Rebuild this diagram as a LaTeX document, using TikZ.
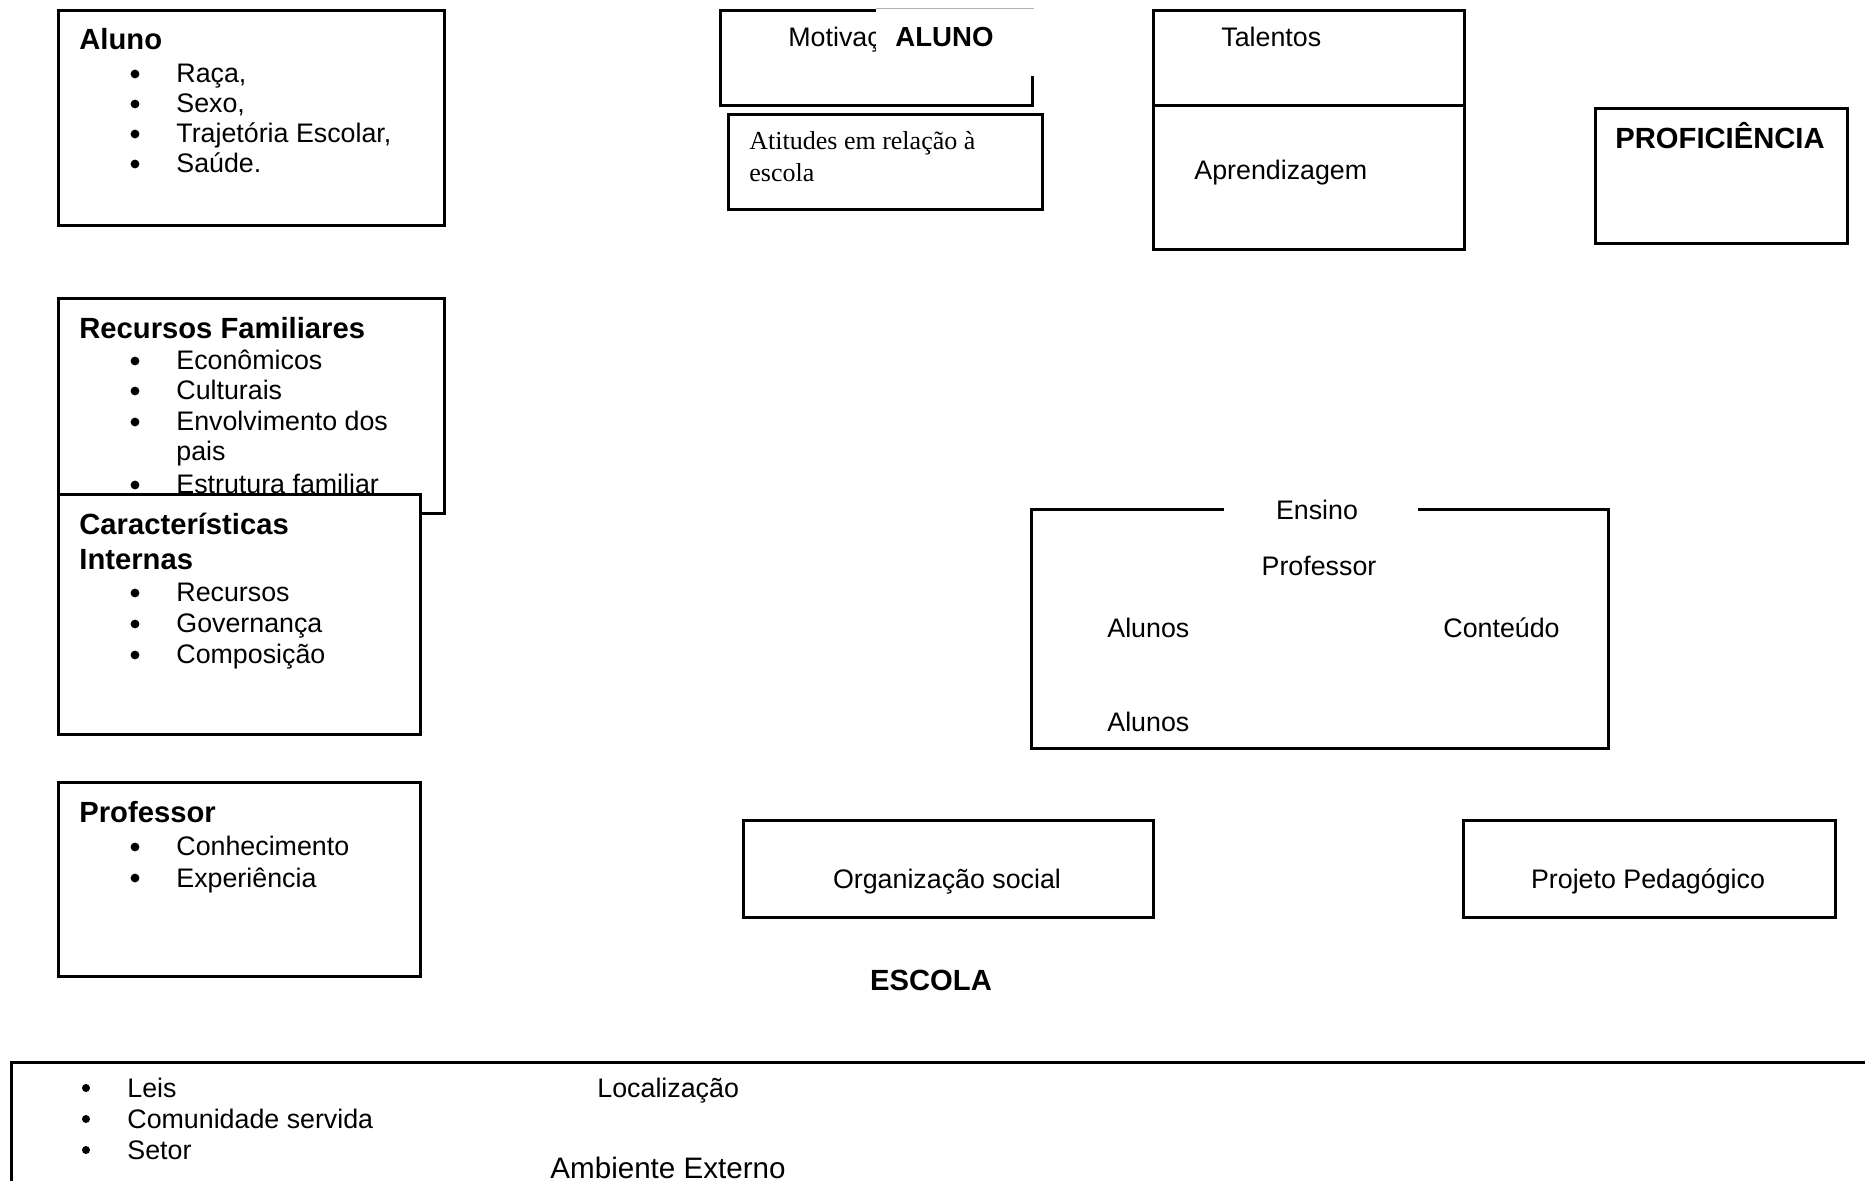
\documentclass[tikz,border=0pt]{standalone}
\usepackage{fontspec}
\setmainfont{Liberation Sans}
\newfontfamily\timesf{Liberation Serif}
\begin{document}
\begin{tikzpicture}[x=0.5pt,y=-0.5pt,
  box/.style={draw=black,line width=1.5pt,fill=white},
  ttl/.style={anchor=base west,inner sep=0pt,font=\fontsize{14.6pt}{17pt}\selectfont\bfseries},
  itm/.style={anchor=base west,inner sep=0pt,font=\fontsize{13.4pt}{16pt}\selectfont},
  ctr/.style={anchor=base,inner sep=0pt,font=\fontsize{13.4pt}{16pt}\selectfont},
  serif/.style={anchor=base west,inner sep=0pt,font=\fontsize{13pt}{16pt}\selectfont\timesf},
  dot/.style={fill=black}
]
\useasboundingbox (0,0) rectangle (1865,1181);
\fill[white] (0,0) rectangle (1865,1181);

% ---------- Aluno ----------
\draw[box] (58,11) rectangle (444,226);
\node[ttl] (tAluno) at (79,50) {Aluno};
\fill[dot] (135,74) circle[radius=2.2pt];
\node[itm] (iRaca) at (176,83) {Raça,};
\fill[dot] (135,104) circle[radius=2.2pt];
\node[itm] (iSexo) at (176,113) {Sexo,};
\fill[dot] (135,134) circle[radius=2.2pt];
\node[itm] (iTraj) at (176,143) {Trajetória Escolar,};
\fill[dot] (135,164) circle[radius=2.2pt];
\node[itm] (iSaude) at (176,173) {Saúde.};

% ---------- Recursos Familiares ----------
\draw[box] (58,299) rectangle (444,514);
\node[ttl] (tRec) at (79,339) {Recursos Familiares};
\fill[dot] (135,361) circle[radius=2.2pt];
\node[itm] (iEcon) at (176,370) {Econômicos};
\fill[dot] (135,391) circle[radius=2.2pt];
\node[itm] (iCult) at (176,400) {Culturais};
\fill[dot] (135,422) circle[radius=2.2pt];
\node[itm] (iEnv) at (176,431) {Envolvimento dos};
\node[itm] (iPais) at (176,461) {pais};
\fill[dot] (135,485) circle[radius=2.2pt];
\node[itm] (iEstr) at (176,494) {Estrutura familiar};

% ---------- Caracteristicas Internas ----------
\draw[box] (58,495) rectangle (420,735);
\node[ttl] (tCar1) at (79,535) {Características};
\node[ttl] (tCar2) at (79,570) {Internas};
\fill[dot] (135,593) circle[radius=2.2pt];
\node[itm] (iRecu) at (176,602) {Recursos};
\fill[dot] (135,624) circle[radius=2.2pt];
\node[itm] (iGov) at (176,633) {Governança};
\fill[dot] (135,655) circle[radius=2.2pt];
\node[itm] (iComp) at (176,664) {Composição};

% ---------- Professor ----------
\draw[box] (58,783) rectangle (420,976);
\node[ttl] (tProf) at (79,823) {Professor};
\fill[dot] (135,847) circle[radius=2.2pt];
\node[itm] (iConh) at (176,856) {Conhecimento};
\fill[dot] (135,878) circle[radius=2.2pt];
\node[itm] (iExp) at (176,887) {Experiência};

% ---------- Motivacao / ALUNO ----------
\draw[box] (720,11) rectangle (1032,106);
\node[itm] (tMot) at (788,47) {Motivação};
\fill[white] (876,9) rectangle (1036,76);
\draw[gray!60,line width=0.5pt] (876,9) -- (1034,9);
\node[anchor=base west,inner sep=0pt,font=\fontsize{13.8pt}{16pt}\selectfont\bfseries] (tALUNO) at (895,47) {ALUNO};

% ---------- Atitudes ----------
\draw[box] (728,115) rectangle (1042,210);
\node[serif] (tAt1) at (749,150) {Atitudes em relação à};
\node[serif] (tAt2) at (749,182) {escola};

% ---------- Talentos / Aprendizagem ----------
\draw[box] (1153,11) rectangle (1464,250);
\draw[line width=1.5pt] (1153,106) -- (1464,106);
\node[itm] (tTal) at (1221,47) {Talentos};
\node[itm] (tApr) at (1194,180) {Aprendizagem};

% ---------- Proficiencia ----------
\draw[box] (1595,109) rectangle (1847,244);
\node[ttl] (tProfi) at (1615,149) {PROFICIÊNCIA};

% ---------- Ensino ----------
\draw[line width=1.5pt] (1224,510) -- (1031,510) -- (1031,749) -- (1608,749) -- (1608,510) -- (1418,510);
\node[ctr] (tEns) at (1317,520) {Ensino};
\node[ctr] (tProfE) at (1319,576) {Professor};
\node[itm] (tAl1) at (1107,638) {Alunos};
\node[itm] (tCont) at (1443,638) {Conteúdo};
\node[itm] (tAl2) at (1107,732) {Alunos};

% ---------- Escola ----------
\draw[box] (743,821) rectangle (1153,917);
\node[ctr] (tOrg) at (947,889) {Organização social};
\draw[box] (1463,821) rectangle (1835,917);
\node[ctr] (tProj) at (1648,889) {Projeto Pedagógico};
\node[anchor=base,inner sep=0pt,font=\fontsize{14.6pt}{17pt}\selectfont\bfseries] (tEsc) at (931,990) {ESCOLA};

% ---------- Ambiente Externo ----------
\draw[line width=1.5pt] (11,1200) -- (11,1062) -- (1880,1062);
\fill[dot] (86,1088) circle[radius=2pt];
\node[itm] (iLeis) at (127,1097) {Leis};
\fill[dot] (86,1119) circle[radius=2pt];
\node[itm] (iCom) at (127,1128) {Comunidade servida};
\fill[dot] (86,1150) circle[radius=2pt];
\node[itm] (iSet) at (127,1159) {Setor};
\node[itm] (tLoc) at (597,1097) {Localização};
\node[anchor=base west,inner sep=0pt,font=\fontsize{14.8pt}{17pt}\selectfont] (tAmb) at (550,1178) {Ambiente Externo};
\end{tikzpicture}
\end{document}
